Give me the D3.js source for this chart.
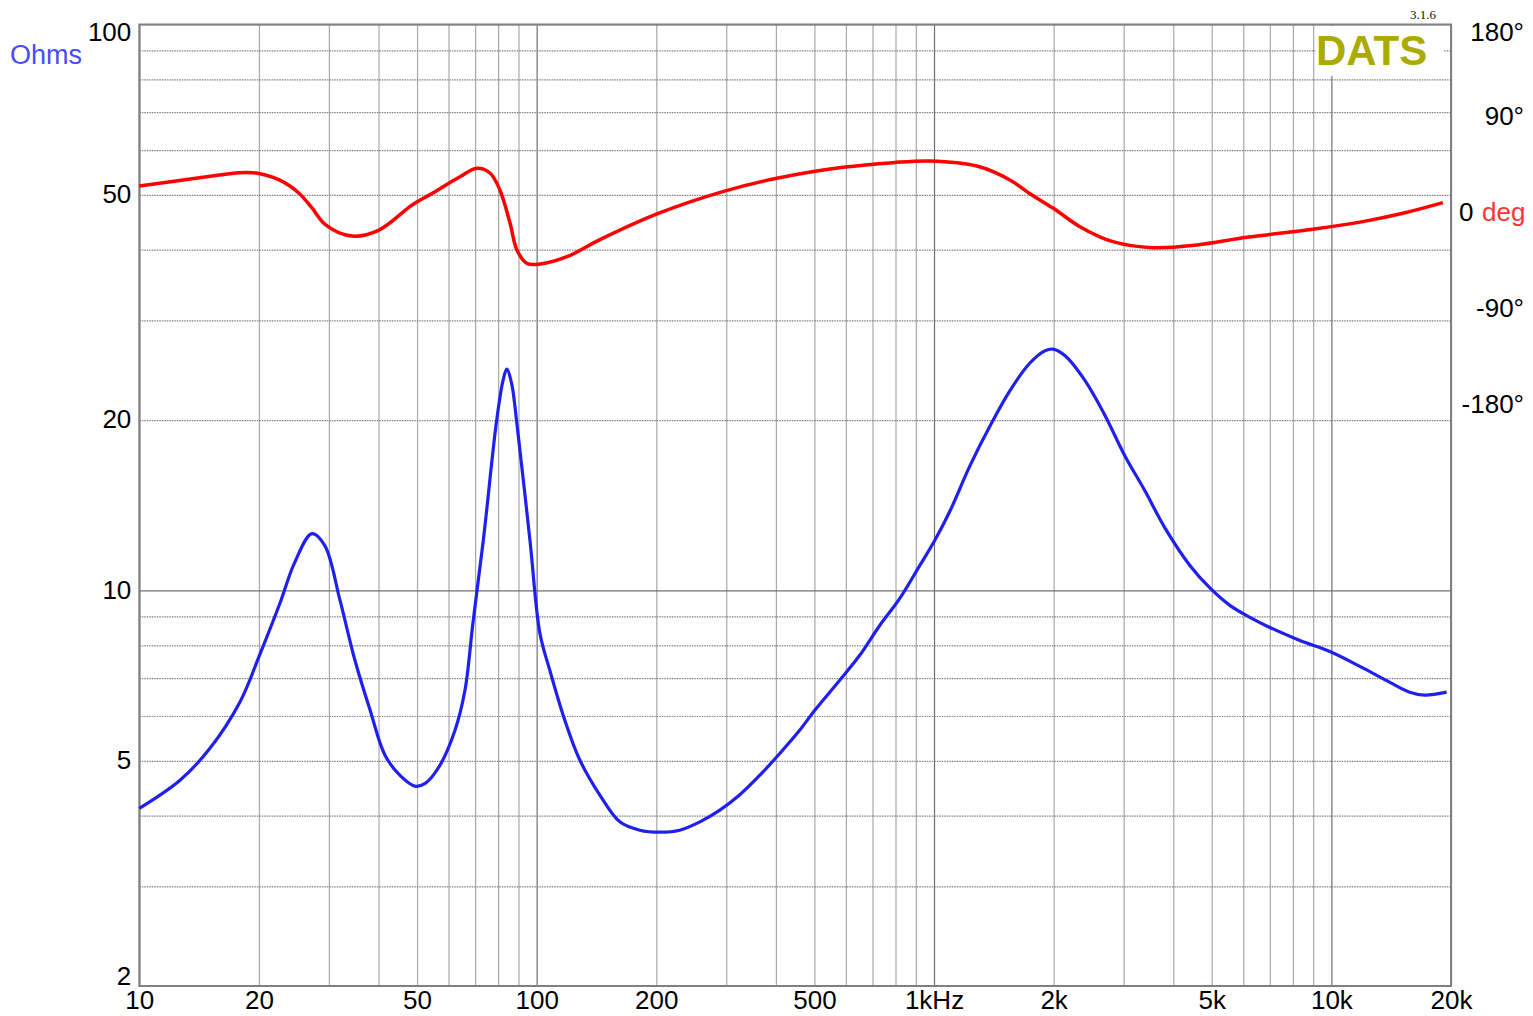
<!DOCTYPE html>
<html>
<head>
<meta charset="utf-8">
<script src="https://cdn.jsdelivr.net/npm/d3@7"></script>
<style>
  body { margin: 0; background: #fff; }
  svg { display: block; }
</style>
</head>
<body>
<svg id="chart" width="1533" height="1016" font-family="Liberation Sans, Arial, sans-serif"></svg>
<script>
// ---- Data ----
const freqTicks = [10, 20, 50, 100, 200, 500, 1000, 2000, 5000, 10000, 20000];
const freqTickLabels = ["10", "20", "50", "100", "200", "500", "1kHz", "2k", "5k", "10k", "20k"];
const ohmTicks = [2, 5, 10, 20, 50, 100];
const phaseTicks = [180, 90, 0, -90, -180];
const phaseTickLabels = ["180°", "90°", "0", "-90°", "-180°"];

const impFreq = [10, 12.66, 15.06, 17.92, 20.1, 22.6, 24.6, 27.2, 29.3, 32.0, 34.9, 38.1, 41.5, 45.3, 49.4, 52.4, 57.1, 62.3, 66.0, 69.1, 73.4, 79.3, 82.3, 84.1, 86.5, 89.0, 96.2, 101.9, 107.9, 117.7, 128.5, 144.2, 161.9, 181.8, 204, 229, 257.5, 289, 324, 364, 409, 459, 501, 579, 650, 730, 820, 921, 1004, 1096, 1231, 1382, 1550, 1741, 1900, 1991, 2134, 2397, 2691, 3021, 3394, 3811, 4405, 4946, 5553, 6237, 7000, 8332, 9914, 11800, 14030, 15750, 17180, 19500];
const impOhms = [4.12, 4.62, 5.26, 6.35, 7.7, 9.5, 11.2, 12.6, 12.0, 9.6, 7.52, 6.14, 5.12, 4.71, 4.51, 4.56, 4.91, 5.66, 6.66, 8.74, 12.25, 19.96, 23.5, 24.6, 23.2, 19.96, 12.25, 8.4, 7.23, 5.90, 5.01, 4.35, 3.90, 3.77, 3.74, 3.77, 3.90, 4.09, 4.35, 4.71, 5.15, 5.66, 6.14, 6.94, 7.68, 8.67, 9.68, 11.07, 12.25, 13.8, 16.6, 19.5, 22.5, 25.2, 26.5, 26.7, 26.0, 23.5, 20.4, 17.3, 15.0, 12.9, 11.07, 10.1, 9.41, 8.96, 8.60, 8.16, 7.80, 7.34, 6.88, 6.61, 6.53, 6.61];

const phaseFreq = [10, 13.3, 15.9, 17.8, 19.7, 22.5, 25.2, 27.2, 29.5, 34.3, 40.1, 48.6, 54.8, 64.1, 70.7, 76.3, 80.8, 85.7, 89.2, 94.5, 102, 119.2, 144.3, 200.8, 294, 402, 590, 788, 977, 1282, 1552, 1743, 1992, 2329, 2820, 3555, 4587, 6130, 8980, 12000, 15130, 19080];
const phaseDeg = [25.3, 31.6, 35.6, 37.8, 37.5, 31, 18.8, 4.7, -11.3, -21.6, -16, 7.5, 18.8, 34, 41.9, 37.5, 21.6, -9.4, -34.7, -47.2, -47.8, -41, -25, -0.9, 20, 32.5, 42.8, 47.2, 48.75, 44, 31, 18, 4.7, -12.8, -26.9, -32.5, -30, -22.8, -15.3, -8.1, -0.3, 9.7];

// ---- Layout ----
const svg = d3.select("#chart");
const L = 139.3, R = 1451, T = 24.5, B = 986;
const FONT = "Liberation Sans, Arial, sans-serif";

const x = d3.scaleLog().domain([10, 20000]).range([L, R]);
const y = d3.scaleLog().domain([2, 100]).range([B, T]);
const yp = d3.scaleLinear().domain([-180, 180]).range([405, 21]);

// vertical grid
const vGrid = [];
for (let d = 10; d <= 10000; d *= 10) for (let m = 1; m <= 9; m++) if (d * m <= 20000) vGrid.push(d * m);
vGrid.push(20000);
const vg = svg.append("g")
  .attr("transform", `translate(0,${B})`)
  .call(d3.axisBottom(x).tickValues(vGrid).tickSize(-(B - T)).tickFormat(""));
vg.select(".domain").remove();
vg.selectAll(".tick line")
  .attr("stroke", d => ([10, 100, 1000, 10000].includes(d) ? "#707070" : "#a8a8a8"))
  .attr("stroke-width", 1.2);

// horizontal grid
const hGrid = [2, 3, 4, 5, 6, 7, 8, 9, 10, 20, 30, 40, 50, 60, 70, 80, 90, 100];
const hg = svg.append("g")
  .attr("transform", `translate(${L},0)`)
  .call(d3.axisLeft(y).tickValues(hGrid).tickSize(-(R - L)).tickFormat(""));
hg.select(".domain").remove();
hg.selectAll(".tick line")
  .attr("stroke", d => (d === 10 ? "#707070" : "#808080"))
  .attr("stroke-width", 1.2)
  .attr("stroke-dasharray", d => (d === 10 ? null : "1.5,1"));

// DATS logo box
svg.append("rect").attr("x", 1315.5).attr("y", T + 1.5).attr("width", 128).attr("height", 50).attr("fill", "#fff");
svg.append("text").attr("x", 1316).attr("y", 65).style("font-family", FONT)
  .attr("font-size", 42).attr("font-weight", "bold").attr("fill", "#aaaa00").text("DATS");
svg.append("text").attr("x", 1410).attr("y", 19)
  .attr("font-size", 13).style("font-family", "'Liberation Serif', 'DejaVu Serif', serif").attr("fill", "#111").text("3.1.6");

// frame
svg.append("rect").attr("x", L).attr("y", T).attr("width", R - L).attr("height", B - T)
  .attr("fill", "none").attr("stroke", "#808080").attr("stroke-width", 2);

// curves
const phaseData = phaseFreq.map((f, i) => [f, phaseDeg[i]]);
const impData = impFreq.map((f, i) => [f, impOhms[i]]);

svg.append("path").datum(phaseData)
  .attr("fill", "none").attr("stroke", "#ff0000").attr("stroke-width", 3.5)
  .attr("d", d3.line().x(d => x(d[0])).y(d => yp(d[1])).curve(d3.curveCatmullRom.alpha(0.5)));

svg.append("path").datum(impData)
  .attr("fill", "none").attr("stroke", "#2020ee").attr("stroke-width", 3.2)
  .attr("d", d3.line().x(d => x(d[0])).y(d => y(d[1])).curve(d3.curveCatmullRom.alpha(0.5)));

// x labels
const xa = svg.append("g")
  .attr("transform", `translate(0,${B})`)
  .call(d3.axisBottom(x).tickValues(freqTicks).tickSize(0).tickPadding(5)
    .tickFormat((d, i) => freqTickLabels[i]));
xa.select(".domain").remove();
xa.selectAll("text").attr("font-size", 26).attr("fill", "#000").style("font-family", FONT);

// y labels
const ya = svg.append("g")
  .attr("transform", `translate(${L},0)`)
  .call(d3.axisLeft(y).tickValues(ohmTicks).tickSize(0).tickPadding(8).tickFormat(d3.format("d")));
ya.select(".domain").remove();
ya.selectAll(".tick").attr("transform", d => `translate(0,${Math.min(Math.max(y(d), 33), 977)})`);
ya.selectAll("text").attr("font-size", 26).attr("fill", "#000").style("font-family", FONT);

svg.append("text").attr("x", 10).attr("y", 64).attr("font-size", 27).attr("fill", "#4a4aff")
  .style("font-family", FONT).text("Ohms");

// phase labels (right)
const pa = svg.append("g")
  .attr("transform", `translate(${R},0)`)
  .call(d3.axisRight(yp).tickValues(phaseTicks).tickSize(0).tickPadding(0)
    .tickFormat((d, i) => phaseTickLabels[i]));
pa.select(".domain").remove();
pa.selectAll(".tick").attr("transform", d => `translate(0,${Math.max(yp(d), 33)})`);
pa.selectAll("text")
  .attr("font-size", 26).attr("fill", "#000").style("font-family", FONT)
  .attr("text-anchor", d => (d === 0 ? "start" : "end"))
  .attr("x", d => (d === 0 ? 8 : 73));
pa.selectAll(".tick").filter(d => d === 0).append("text")
  .attr("x", 31).attr("dy", "0.32em").attr("font-size", 26).attr("fill", "#ff3333")
  .style("font-family", FONT).text("deg");
</script>
</body>
</html>
